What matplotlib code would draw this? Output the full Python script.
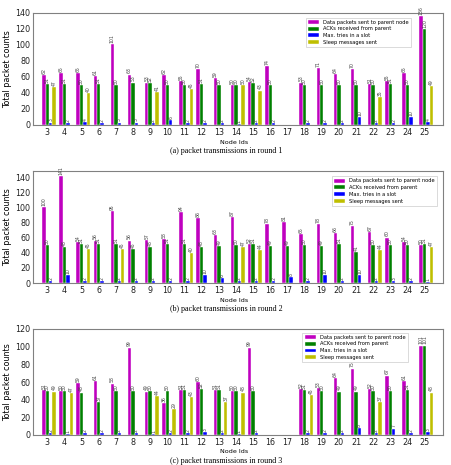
import matplotlib
matplotlib.use("Agg")
import matplotlib.pyplot as plt
import numpy as np

nodes = list(range(3, 26))
series_names = ["Data packets sent to parent node", "ACKs received from parent",
                "Max. tries in a slot", "Sleep messages sent"]
colors = ["#bf00bf", "#008000", "#0000ff", "#bfbf00"]

# Round 1
r1_data  = [62, 65, 65, 61, 101, 63, 53, 62, 55, 70, 59, 50, 54, 74, 0, 53, 71, 64, 70, 51, 55, 65, 136]
r1_ack   = [51, 51, 50, 51, 50, 53, 52, 50, 50, 51, 50, 50, 52, 50, 0, 50, 50, 50, 50, 50, 51, 50, 120]
r1_tries = [3, 2, 4, 2, 3, 3, 2, 6, 2, 2, 2, 1, 2, 2, 0, 2, 2, 2, 10, 2, 2, 10, 4]
r1_sleep = [47, 0, 40, 0, 0, 0, 41, 0, 45, 0, 0, 50, 43, 0, 0, 0, 0, 0, 0, 35, 0, 0, 49]

# Round 2
r2_data  = [100, 141, 54, 56, 95, 56, 57, 58, 94, 86, 63, 87, 52, 78, 81, 65, 78, 66, 75, 67, 60, 54, 50]
r2_ack   = [50, 48, 51, 51, 51, 45, 48, 51, 51, 48, 49, 50, 51, 49, 49, 50, 49, 51, 41, 50, 50, 50, 51]
r2_tries = [2, 10, 2, 2, 2, 2, 2, 2, 2, 10, 6, 2, 2, 2, 8, 2, 10, 2, 10, 2, 3, 2, 1]
r2_sleep = [0, 0, 45, 0, 45, 0, 0, 0, 40, 0, 0, 47, 44, 0, 0, 0, 0, 0, 0, 44, 0, 0, 47]

# Round 3
r3_data  = [51, 50, 59, 61, 58, 99, 49, 36, 51, 60, 51, 50, 99, 0, 0, 52, 53, 64, 75, 52, 67, 61, 101]
r3_ack   = [50, 50, 48, 37, 50, 50, 50, 50, 51, 52, 51, 50, 50, 0, 0, 51, 50, 49, 49, 50, 50, 51, 101]
r3_tries = [2, 1, 2, 2, 2, 2, 1, 2, 2, 3, 2, 1, 2, 0, 0, 2, 2, 2, 8, 2, 7, 2, 3]
r3_sleep = [49, 47, 0, 0, 0, 0, 44, 29, 43, 0, 37, 48, 0, 0, 0, 45, 0, 0, 0, 37, 0, 0, 48]

rounds = [
    ([r1_data, r1_ack, r1_tries, r1_sleep], 140, [0.659, 0.982], "(a) packet transmissions in round 1"),
    ([r2_data, r2_ack, r2_tries, r2_sleep], 148, [0.722, 0.975], "(b) packet transmissions in round 2"),
    ([r3_data, r3_ack, r3_tries, r3_sleep], 120, [0.651, 0.990], "(c) packet transmissions in round 3"),
]

W, H = 452, 465
fig = plt.figure(figsize=(W / 100, H / 100), dpi=100)

boxes = [(13, 125), (171, 283), (329, 435)]
left_px, right_px = 33, 443
caption_y = [151, 309, 461]

x = np.array(nodes, dtype=float)
offsets = [-0.2, 0.0, 0.2, 0.4]
width = 0.2

for (series, ymax, leg_anchor, caption), (top, bot), cy in zip(rounds, boxes, caption_y):
    ax = fig.add_axes([left_px / W, 1 - bot / H, (right_px - left_px) / W, (bot - top) / H])
    for vals, off, col, name in zip(series, offsets, colors, series_names):
        ax.bar(x + off, vals, width, color=col, edgecolor="white", linewidth=0.3, label=name)
        for xi, v in zip(x + off, vals):
            if v > 0:
                ax.text(xi, v + 1.5, str(v), rotation=90, ha="center", va="bottom",
                        fontsize=3.3, color="#444444")
    ax.set_xlim(2.17, 26.07)
    ax.set_ylim(0, ymax)
    ax.set_yticks(range(0, ymax + 1, 20))
    ax.set_xticks(nodes)
    ax.set_xticklabels([str(n) for n in nodes])
    ax.tick_params(axis="both", labelsize=5.8, length=0, pad=2, colors="#222222")
    for s in ax.spines.values():
        s.set_color("#808080")
        s.set_linewidth(0.8)
    ax.set_ylabel("Total packet counts", fontsize=5.8, labelpad=2)
    ax.set_xlabel("Node Ids", fontsize=4.6, labelpad=2)
    ax.xaxis.set_label_coords(0.49, -0.135)
    leg = ax.legend(loc="upper left", bbox_to_anchor=leg_anchor, fontsize=3.7,
                    frameon=True, fancybox=False, framealpha=1, edgecolor="#cccccc",
                    handlelength=2.2, handleheight=0.8, borderpad=0.4, labelspacing=0.35)
    leg.get_frame().set_linewidth(0.5)
    fig.text(0.5, 1 - cy / H, caption, ha="center", va="center", fontsize=5.8,
             family="Liberation Serif")

fig.savefig("out.png", dpi=100)
